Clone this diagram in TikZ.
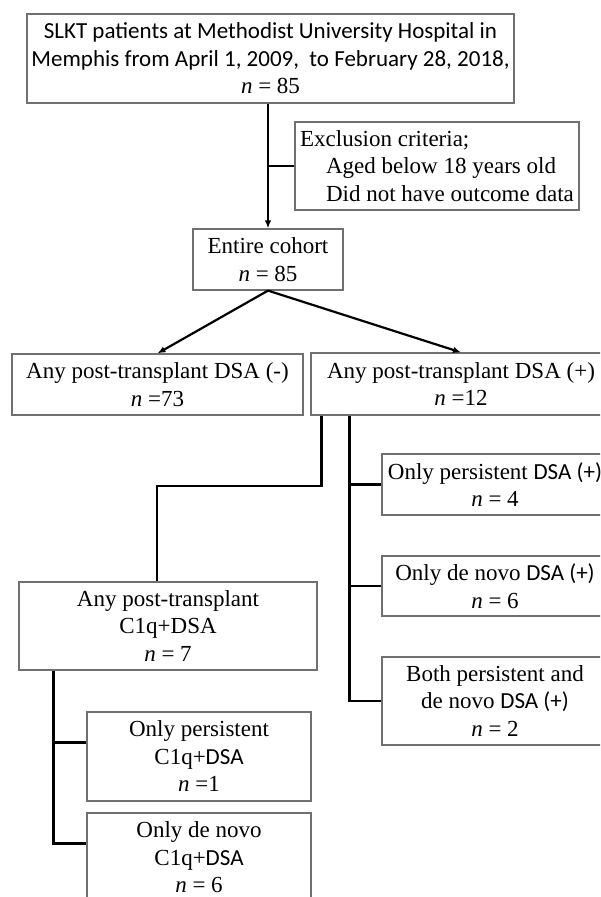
\documentclass[tikz,border=0pt]{standalone}
\usepackage{fontspec}
\setmainfont{Liberation Serif}
\newfontfamily\calfont{Carlito}
\usepackage{xcolor}
\usepackage{tikz}
\usetikzlibrary{arrows.meta}

\definecolor{boxgray}{HTML}{707070}
\newcommand{\ncount}{\textit{n}}
\newcommand{\sdsa}{{\calfont DSA (+)}}

\tikzset{
    box/.style={draw=boxgray, line width=1.2pt, rectangle, align=center,
        inner sep=2pt, font=\fontsize{23}{27.5}\selectfont},
    link/.style={line width=2.2pt, black},
}

\begin{document}
\begin{tikzpicture}[x=1pt, y=-1pt, >={Latex[length=8pt,width=6.5pt]}]
    \useasboundingbox (0,0) rectangle (600,897);
    \clip (0,0) rectangle (600,897);
    \fill[white] (0,0) rectangle (600,897);

    % Hộp đầu và tiêu chí loại trừ
    \node[box, minimum width=487pt, minimum height=89pt] (top) at (270.5,58.5)
        {{\calfont SLKT patients at Methodist University Hospital in}\\
         {\calfont Memphis from April 1, 2009, \ to February 28, 2018,}\\
         \ncount{} = 85};
    \node[box, align=left, minimum width=284pt, minimum height=88pt] (excl) at (437,166)
        {Exclusion criteria;\\
         \hspace*{26pt}Aged below 18 years old\\
         \hspace*{26pt}Did not have outcome data};
    \node[box, minimum width=150pt, minimum height=61pt] (cohort) at (268,259.5)
        {Entire cohort\\\ncount{} = 85};

    % Hai nhóm DSA
    \node[box, minimum width=291pt, minimum height=61pt] (neg) at (157.5,384.5)
        {Any post-transplant DSA (-)\\\ncount{} =73};
    \node[box, minimum width=300pt, minimum height=62pt] (pos) at (461,384)
        {Any post-transplant DSA (+)\\\ncount{} =12};

    % Các nhóm con
    \node[box, minimum width=226pt, minimum height=61pt] (pers) at (495,484.5)
        {Only persistent \sdsa\\\ncount{} = 4};
    \node[box, minimum width=226pt, minimum height=60pt] (novo) at (495,586)
        {Only de novo \sdsa\\\ncount{} = 6};
    \node[box, minimum width=226pt, minimum height=88pt] (both) at (495,701)
        {Both persistent and\\de novo \sdsa\\\ncount{} = 2};
    \node[box, minimum width=298pt, minimum height=88pt] (c1q) at (168,626)
        {Any post-transplant\\C1q+DSA\\\ncount{} = 7};
    \node[box, minimum width=224pt, minimum height=89pt] (c1qpers) at (199,756.5)
        {Only persistent\\C1q+{\calfont DSA}\\\ncount{} =1};
    \node[box, minimum width=224pt, minimum height=89pt] (c1qnovo) at (199,857.5)
        {Only de novo\\C1q+{\calfont DSA}\\\ncount{} = 6};

    % Mũi tên
    \draw[link, ->] (cohort.north |- top.south) -- (cohort.north);
    \draw[link] (excl.west) -- (excl.west -| cohort.north);
    \draw[link, ->] (cohort.south) -- (neg.north);
    \draw[link, ->] (cohort.south) -- (pos.north);

    % Nhánh DSA (+)
    \coordinate (elbow) at (157,486);
    \draw[link] ([xshift=11pt]pos.south west) |- (elbow) -- (elbow |- c1q.north);
    \coordinate (trunk) at ([xshift=39pt]pos.south west);
    \draw[link] (trunk) |- (both.west);
    \foreach \b in {pers,novo} {
        \draw[link] (\b.west) -- (\b.west -| trunk);
    }

    % Nhánh C1q+DSA
    \coordinate (stem) at ([xshift=35pt]c1q.south west);
    \draw[link] (stem) |- ([yshift=14pt]c1qnovo.west);
    \draw[link] ([yshift=14pt]c1qpers.west) -- ([yshift=14pt]c1qpers.west -| stem);
\end{tikzpicture}
\end{document}
